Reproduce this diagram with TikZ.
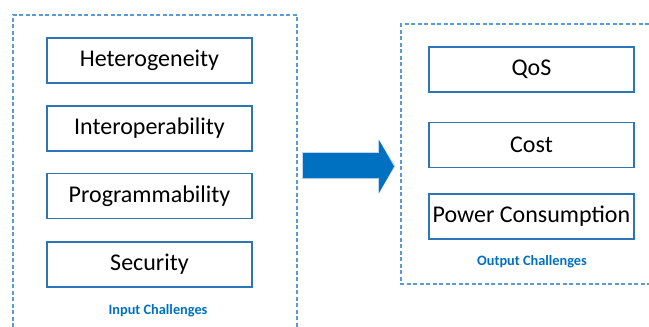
\documentclass[tikz,border=0pt]{standalone}
\usepackage{fontspec}
\setmainfont{Carlito}
\definecolor{boxblue}{HTML}{2E75B6}
\definecolor{dashblue}{HTML}{5B9BD5}
\definecolor{arrowblue}{HTML}{0070C0}
\definecolor{glow}{HTML}{BDD7EE}
\tikzset{
  itembox/.style={draw=boxblue, line width=1.1pt, fill=white, minimum width=205pt, minimum height=45pt, inner sep=0pt, font=\fontsize{24}{28}\selectfont, text=black},
  grouplabel/.style={font=\fontsize{14.3}{17}\selectfont\bfseries, text=arrowblue, inner sep=0pt},
  groupframe/.style={draw=dashblue, line width=1.1pt, dash pattern=on 4pt off 2.5pt}
}
\begin{document}
\begin{tikzpicture}[x=1pt,y=-1pt]
\useasboundingbox (0,0) rectangle (649,327);
% frames
\draw[groupframe] (13,327) -- (13,15) -- (297,15) -- (297,327);
\draw[groupframe] (649,24) -- (401,24) -- (401,284) -- (649,284);
% input items
\node[itembox] (het) at (149.5,60.5) {Heterogeneity};
\node[itembox] (int) at (149.5,128.5) {Interoperability};
\node[itembox] (prog) at (149.5,196) {Programmability};
\node[itembox] (sec) at (149.5,264.5) {Security};
\node[grouplabel] (inlab) at (158,311) {Input Challenges};
% output items
\node[itembox] (qos) at (531.5,69.5) {QoS};
\node[itembox] (cost) at (531.5,145) {Cost};
\node[itembox] (pow) at (531.5,216.5) {Power Consumption};
\node[grouplabel] (outlab) at (532,262) {Output Challenges};
% arrow
\fill[glow] (302,152) -- (378,152) -- (378,139) -- (395.5,166) -- (378,194) -- (378,179) -- (302,179) -- cycle;
\fill[arrowblue] (303,153) -- (379,153) -- (379,140) -- (394,166.5) -- (379,193) -- (379,178) -- (303,178) -- cycle;
\end{tikzpicture}
\end{document}
